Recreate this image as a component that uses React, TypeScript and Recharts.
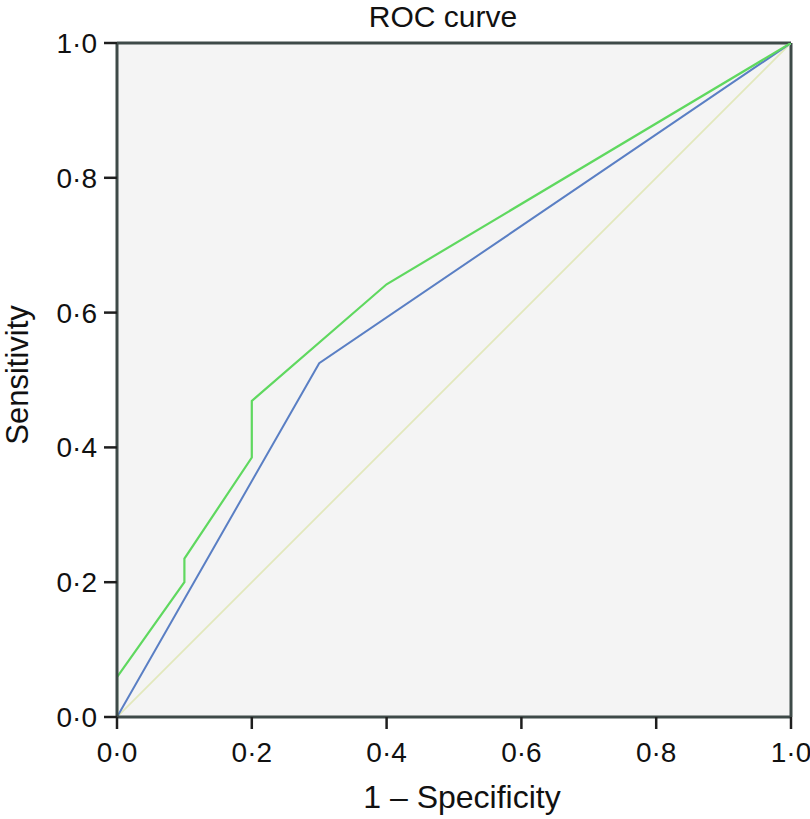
import React from 'react';
import { LineChart, Line, XAxis, YAxis, CartesianGrid, ReferenceLine } from 'recharts';

const ticks = [0, 0.2, 0.4, 0.6, 0.8, 1.0];

const greenX = [0, 0, 0.1, 0.1, 0.2, 0.2, 0.4, 1.0];
const greenY = [0, 0.059, 0.2, 0.235, 0.385, 0.469, 0.642, 1.0];

const blueX = [0, 0.3, 1.0];
const blueY = [0, 0.525, 1.0];

const refX = [0, 1.0];
const refY = [0, 1.0];

const zip = (xs: number[], ys: number[]) => xs.map((x, i) => ({ x, y: ys[i] }));
const greenData = zip(greenX, greenY);
const blueData = zip(blueX, blueY);
const refData = zip(refX, refY);

const FONT = '"Liberation Sans", Arial, sans-serif';
const fmt = (v: number) => v.toFixed(1).replace('.', '·');
const AXIS = '#3e4a48';
const TICK = '#1e1e1e';

export default function App() {
  return (
    <div style={{ position: 'absolute', left: 0, top: 0, width: 810, height: 819, background: '#fff' }}>
      <LineChart
        width={810}
        height={819}
        margin={{ top: 43, right: 19, left: 0, bottom: 0 }}
        style={{ fontFamily: FONT }}
      >
        <CartesianGrid fill="#f4f4f4" horizontal={false} vertical={false} stroke="none" />
        <XAxis
          type="number"
          dataKey="x"
          domain={[0, 1]}
          ticks={ticks}
          tickFormatter={fmt}
          height={102}
          tickSize={12}
          tickMargin={13}
          allowDataOverflow
          axisLine={{ stroke: AXIS, strokeWidth: 3 }}
          tickLine={{ stroke: TICK, strokeWidth: 2.5 }}
          tick={{ fill: '#111', fontSize: 28, fontFamily: FONT }}
          label={{
            content: (props: any) => {
              const vb = props.viewBox || {};
              return (
                <text x={vb.x + vb.width / 2 + 8} y={808} textAnchor="middle" fontSize={32} fill="#111" fontFamily={FONT}>
                  1 – Specificity
                </text>
              );
            },
          }}
        />
        <YAxis
          type="number"
          dataKey="y"
          domain={[0, 1]}
          ticks={ticks}
          tickFormatter={fmt}
          width={117}
          tickSize={13}
          tickMargin={7}
          allowDataOverflow
          axisLine={{ stroke: AXIS, strokeWidth: 3 }}
          tickLine={{ stroke: TICK, strokeWidth: 2.5 }}
          tick={{ fill: '#111', fontSize: 28, fontFamily: FONT }}
          label={{
            content: (props: any) => {
              const vb = props.viewBox || {};
              const cy = vb.y + vb.height / 2 - 5;
              return (
                <text x={28} y={cy} transform={`rotate(-90, 28, ${cy})`} textAnchor="middle" fontSize={31} fill="#111" fontFamily={FONT}>
                  Sensitivity
                </text>
              );
            },
          }}
        />
        <ReferenceLine y={1} stroke={AXIS} strokeWidth={3} />
        <ReferenceLine x={1} stroke={AXIS} strokeWidth={3} />
        <Line data={refData} dataKey="y" type="linear" stroke="#e2e8bc" strokeWidth={1.8} dot={false} isAnimationActive={false} />
        <Line data={blueData} dataKey="y" type="linear" stroke="#5a7fc4" strokeWidth={2} dot={false} isAnimationActive={false} />
        <Line data={greenData} dataKey="y" type="linear" stroke="#5fd85f" strokeWidth={2.2} dot={false} isAnimationActive={false} />
        <text x={443} y={27} textAnchor="middle" fontSize={30} fill="#111" fontFamily={FONT}>
          ROC curve
        </text>
      </LineChart>
    </div>
  );
}
